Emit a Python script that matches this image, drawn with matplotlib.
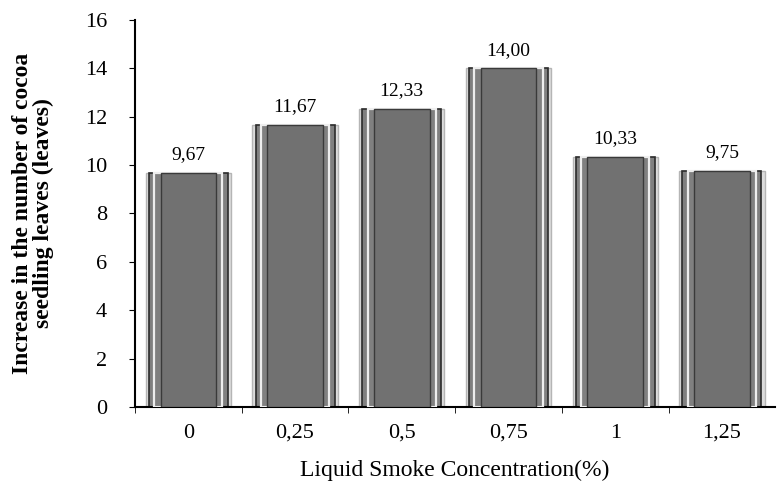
import numpy as np
import matplotlib.pyplot as plt

plt.rcParams['font.family'] = ['Liberation Serif', 'DejaVu Serif']

concentrations = ['0', '0,25', '0,5', '0,75', '1', '1,25']
leaf_increase = [9.67, 11.67, 12.33, 14.00, 10.33, 9.75]
value_labels = ['9,67', '11,67', '12,33', '14,00', '10,33', '9,75']
y_ticks = [0, 2, 4, 6, 8, 10, 12, 14, 16]

fig = plt.figure(figsize=(7.78, 4.97), dpi=100)
ax = fig.add_axes([0.1735, 0.181, 0.823, 0.779])

x = np.arange(len(concentrations))

# outer light halo, main gray body, then inner bands to mimic the shaded bars
ax.bar(x, leaf_increase, width=0.8, color='#dcdcdc', edgecolor='#b5b5b5', linewidth=1, zorder=1)
ax.bar(x, leaf_increase, width=0.74, color='#808080', edgecolor='#2b2b2b', linewidth=1.2, zorder=2)
ax.bar(x, leaf_increase, width=0.64, color='none', edgecolor='#eeeeee', linewidth=1.6, zorder=3)
ax.bar(x, leaf_increase, width=0.52, color='#717171', edgecolor='#3a3a3a', linewidth=1.0, zorder=3)

for xi, v, lab in zip(x, leaf_increase, value_labels):
    ax.text(xi, v + 0.4, lab, ha='center', va='bottom', fontsize=14)

ax.set_xlim(-0.5, len(concentrations) - 0.5)
ax.set_ylim(0, 16)
ax.set_yticks(y_ticks)
ax.set_yticklabels([str(t) for t in y_ticks], fontsize=16)
ax.set_xticks(x)
ax.set_xticklabels(concentrations, fontsize=16)
ax.tick_params(axis='x', length=0, pad=12)
ax.set_xticks(np.arange(len(concentrations)) - 0.5, minor=True)
ax.tick_params(axis='x', which='minor', length=4, direction='out')
ax.tick_params(axis='y', length=4, direction='out', pad=16)

ax.spines['top'].set_visible(False)
ax.spines['right'].set_visible(False)
ax.spines['left'].set_linewidth(1.5)
ax.spines['bottom'].set_linewidth(1.5)

ax.set_xlabel('Liquid Smoke Concentration(%)', fontsize=17, labelpad=12)
ax.set_ylabel('Increase in the number of cocoa\nseedling leaves (leaves)', fontsize=17,
              fontweight='bold', labelpad=22, linespacing=1.0)

fig.savefig('out.png', dpi=100)
